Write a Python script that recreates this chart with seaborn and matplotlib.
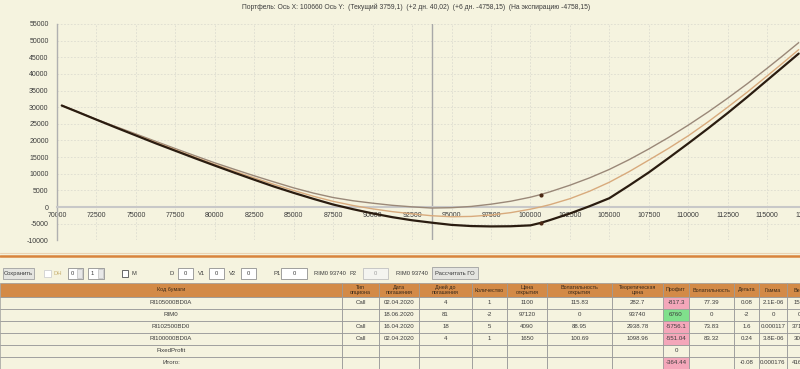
import matplotlib
matplotlib.use("Agg")
import matplotlib.pyplot as plt
import seaborn as sns
import pandas as pd
from matplotlib.patches import Rectangle
from matplotlib.lines import Line2D

# ---------------- data ----------------
price = [70300, 71250, 72500, 73750, 75000, 76250, 77500, 78750, 80000, 81250,
         82500, 83750, 85000, 86250, 87500, 88750, 90000, 91250, 92500, 93740,
         95000, 96250, 97500, 98750, 100000, 100660, 101250, 102500, 103750, 105000,
         106250, 107500, 108750, 110000, 111250, 112500, 113750, 115000, 116000, 117000]
pnl_expiry = [30500, 28680, 26250, 23850, 21500, 19150, 16900, 14650, 12450, 10300,
              8200, 6150, 4250, 2450, 750, -650, -1920, -3050, -3980, -4700,
              -5370, -5720, -5830, -5780, -5510, -4758, -3900, -1950, 250, 2650,
              6450, 10400, 14700, 19100, 23600, 28250, 33100, 38100, 42100, 46100]
pnl_plus2 = [30520, 28700, 26250, 23950, 21700, 19430, 17200, 14980, 12800, 10750,
             8750, 6800, 4950, 3225, 1700, 465, -550, -1390, -2050, -2620,
             -2920, -2825, -2400, -1690, -650, 40, 730, 2500, 4755, 7450,
             10625, 14100, 17630, 21400, 25570, 30000, 34570, 39400, 43300, 47300]
pnl_current = [30550, 28700, 26300, 24120, 21950, 19740, 17550, 15400, 13280, 11310,
               9380, 7540, 5750, 4180, 2850, 1890, 1150, 510, 50, -300,
               -200, 175, 850, 1740, 2950, 3759, 4590, 6550, 8765, 11300,
               14225, 17450, 20900, 24600, 28530, 32700, 37085, 41700, 45500, 49400]
cursor_x = [100660, 100660]
cursor_y = [3759.1, -4758.15]
spot_price = 93740

x_ticks = [70000, 72500, 75000, 77500, 80000, 82500, 85000, 87500, 90000, 92500,
           95000, 97500, 100000, 102500, 105000, 107500, 110000, 112500, 115000, 117500]
y_ticks = [-10000, -5000, 0, 5000, 10000, 15000, 20000, 25000, 30000, 35000,
           40000, 45000, 50000, 55000]

title = ("Портфель: Ось X: 100660 Ось Y:  (Текущий 3759,1)  (+2 дн. 40,02)  "
         "(+6 дн. -4758,15)  (На экспирацию -4758,15)")

headers = ["Код бумаги", "Тип\nопциона", "Дата\nпогашения", "Дней до\nпогашения",
           "Количество", "Цена\nоткрытия", "Волатильность\nоткрытия",
           "Теоретическая\nцена", "Профит", "Волатильность", "Дельта", "Гамма", "Вега"]
codes = ["RI105000BD0A", "RIM0", "RI102500BD0", "RI100000BD0A", "FixedProfit", "Итого:"]
opt_type = ["Call", "", "Call", "Call", "", ""]
expiry = ["02.04.2020", "18.06.2020", "16.04.2020", "02.04.2020", "", ""]
days_left = ["4", "81", "18", "4", "", ""]
quantity = ["1", "-2", "5", "1", "", ""]
open_price = ["1100", "97120", "4090", "1650", "", ""]
open_vol = ["115.83", "0", "88.95", "100.69", "", ""]
theo_price = ["282.7", "93740", "2938.78", "1098.96", "", ""]
profit = ["-817.3", "6760", "-5756.1", "-551.04", "0", "-364.44"]
volatility = ["77.39", "0", "73.83", "83.32", "", ""]
delta = ["0.08", "-2", "1.6", "0.24", "", "-0.08"]
gamma = ["2.1E-06", "0", "0.000117", "3.8E-06", "", "0.000176"]
vega = ["15.0", "0", "371.4", "30.2", "", "416.7"]

# ---------------- style ----------------
sns.set_style("white")
plt.rcParams['font.family'] = ['Liberation Sans', 'DejaVu Sans']
BG = "#f5f3df"
TXT = "#3c3c3c"

W, H = 800, 369
fig = plt.figure(figsize=(8, 3.69), dpi=100, facecolor=BG)

# chart axes (extends past the right edge like the screenshot)
x0, x1 = 57, 806.6
ytop, ybot = 24, 240.3
ax = fig.add_axes([x0 / W, 1 - ybot / H, (x1 - x0) / W, (ybot - ytop) / H])
ax.set_facecolor(BG)

df = pd.DataFrame({"price": price, "expiry": pnl_expiry,
                   "plus2": pnl_plus2, "current": pnl_current})
ax.axvline(spot_price, color="#a8a8a8", lw=1.0, zorder=1)
sns.lineplot(data=df, x="price", y="current", ax=ax, color="#9a8878", lw=1.0, zorder=3)
sns.lineplot(data=df, x="price", y="plus2", ax=ax, color="#d8aa7c", lw=1.0, zorder=3)
sns.lineplot(data=df, x="price", y="expiry", ax=ax, color="#2a1c10", lw=1.6, zorder=4)
sns.scatterplot(x=cursor_x, y=cursor_y, ax=ax, color="#4a2814", s=9, linewidth=0, zorder=5)

ax.set_xlim(70000, 117500)
ax.set_ylim(-10000, 55000)
ax.set_xticks(x_ticks)
ax.set_yticks(y_ticks)
ax.set_xticklabels([str(v) for v in x_ticks])
ax.set_yticklabels([str(v) for v in y_ticks])
ax.set_xlabel("")
ax.set_ylabel("")
ax.grid(True, color="#dcdcd0", linestyle=(0, (2, 2)), lw=0.6)
ax.set_axisbelow(True)
for s in ["top", "right"]:
    ax.spines[s].set_visible(False)
ax.spines["left"].set_color("#b0b0b0")
ax.spines["left"].set_linewidth(1.0)
ax.spines["bottom"].set_position(("data", 0))
ax.spines["bottom"].set_color("#c8c8c8")
ax.spines["bottom"].set_linewidth(1.5)
ax.tick_params(axis="y", length=5, width=0.8, color="#808080", labelsize=5,
               labelcolor=TXT, pad=1)
ax.tick_params(axis="x", length=2, width=0.6, color="#a0a0a0", labelsize=5,
               labelcolor=TXT, pad=1.5)

fig.text(416 / W, 1 - 7 / H, title, ha="center", va="center", fontsize=4.85, color=TXT)

# ---------------- overlay in pixel coordinates ----------------
ov = fig.add_axes([0, 0, 1, 1], facecolor="none")
ov.set_xlim(0, W)
ov.set_ylim(H, 0)
ov.axis("off")

ov.add_line(Line2D([0, W], [253, 253], color="#ead3b4", lw=0.8))
ov.add_line(Line2D([0, W], [256, 256], color="#d8843c", lw=1.8))


def box(x, y, w, h, fc="#ffffff", ec="#909090", lw=0.6):
    ov.add_patch(Rectangle((x, y), w, h, facecolor=fc, edgecolor=ec, lw=lw))


def label(x, y, s, ha="left", color=TXT, size=4.2):
    ov.text(x, y, s, ha=ha, va="center", fontsize=size, color=color)


ty = 273.5
box(3, 268, 31, 11, fc="#e4e4e0", ec="#a0a0a0")
label(18.5, ty, "Сохранить", ha="center")
box(44, 270, 7, 7, fc="#ffffff", ec="#d0d0d0")
label(54, ty, "DH", color="#c8b070")
box(68, 268, 15, 11)
label(71, ty, "0")
box(77, 269, 5, 9, fc="#e8e8e8", ec="#b0b0b0", lw=0.4)
box(88, 268, 16, 11)
label(91, ty, "1")
box(98, 269, 5, 9, fc="#e8e8e8", ec="#b0b0b0", lw=0.4)
box(122, 270, 6, 7, fc="#ffffff", ec="#505050")
label(131, ty, "M")
label(169, ty, "D")
box(178, 268, 15, 11)
label(185.5, ty, "0", ha="center")
label(198, ty, "V1")
box(209, 268, 15, 11)
label(216.5, ty, "0", ha="center")
label(229, ty, "V2")
box(241, 268, 15, 11)
label(248.5, ty, "0", ha="center")
label(273, ty, "P1")
box(281, 268, 26, 11)
label(294, ty, "0", ha="center")
label(314, ty, "RIM0 93740")
label(350, ty, "P2")
box(363, 268, 25, 11, fc="#f4f4f0", ec="#c0c0c0")
label(375.5, ty, "0", ha="center", color="#a0a0a0")
label(396, ty, "RIM0 93740")
box(432, 267, 46, 12, fc="#e4e4e0", ec="#a0a0a0")
label(455, ty, "Рассчитать ГО", ha="center")

# ---------------- table ----------------
col_edges = [0, 342, 379, 419, 472, 507, 547, 612, 663, 689, 734, 759, 787, 812]
head_top, head_bot = 283, 297
row_h = 12
columns = [codes, opt_type, expiry, days_left, quantity, open_price, open_vol,
           theo_price, profit, volatility, delta, gamma, vega]
GRID = "#9a9a9a"

for i, h in enumerate(headers):
    xa, xb = col_edges[i], col_edges[i + 1]
    box(xa, head_top, xb - xa, head_bot - head_top, fc="#d38a47", ec=GRID, lw=0.5)
    ov.text((xa + xb) / 2, (head_top + head_bot) / 2, h, ha="center", va="center",
            fontsize=3.9, color="#3a2a1a", linespacing=1.0)

for r in range(len(codes)):
    ya = head_bot + r * row_h
    for c, col in enumerate(columns):
        xa, xb = col_edges[c], col_edges[c + 1]
        fc = "none"
        if c == 8:
            v = float(col[r])
            fc = "#f4a7ba" if v < 0 else ("#80e08c" if v > 0 else "none")
        box(xa, ya, xb - xa, row_h, fc=fc, ec=GRID, lw=0.5)
        label((xa + xb) / 2, ya + row_h / 2, col[r], ha="center", size=4.4)

fig.savefig("out.png", dpi=100, facecolor=BG)
